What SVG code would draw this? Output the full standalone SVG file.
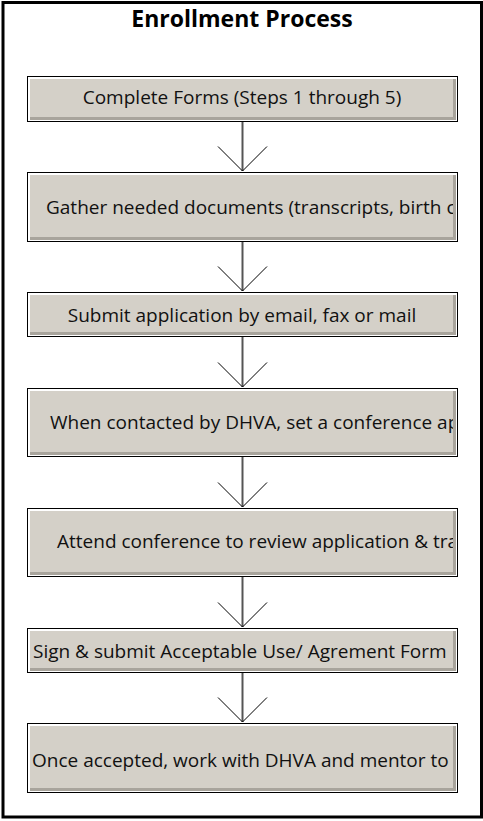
<svg xmlns="http://www.w3.org/2000/svg" width="483" height="821" viewBox="0 0 483 821">
  <style>
    .frame { fill: #fff; stroke: #000; stroke-width: 3; }
    .title { font-family: "Open Sans", "DejaVu Sans", sans-serif; font-weight: bold; font-size: 23px; fill: #000; text-anchor: middle; }
    .bx { fill: #fff; stroke: #000; stroke-width: 1; }
    .sh { fill: #a8a49c; }
    .face { fill: #d4d0c8; }
    .lbl { font-family: "Open Sans", "DejaVu Sans", sans-serif; font-size: 19px; fill: #111; }
    .mid { text-anchor: middle; }
    .line { stroke: #555; stroke-width: 2; fill: none; }
    .head { stroke: #000; stroke-width: 1; fill: none; }
  </style>
  <defs>
    <clipPath id="clip" clipPathUnits="userSpaceOnUse">
      <rect x="30" y="0" width="423" height="821"/>
    </clipPath>
  </defs>
  <rect class="frame" x="3" y="2.5" width="478.5" height="814.5"/>
  <text class="title" x="242" y="27">Enrollment Process</text>

  <g id="connectors">
    <line class="line" x1="242.5" y1="122" x2="242.5" y2="171"/>
    <polyline class="head" points="218,146.5 242.5,171 267,146.5"/>
    <line class="line" x1="242.5" y1="242" x2="242.5" y2="291"/>
    <polyline class="head" points="218,266.5 242.5,291 267,266.5"/>
    <line class="line" x1="242.5" y1="337" x2="242.5" y2="387"/>
    <polyline class="head" points="218,362.5 242.5,387 267,362.5"/>
    <line class="line" x1="242.5" y1="457" x2="242.5" y2="507"/>
    <polyline class="head" points="218,482.5 242.5,507 267,482.5"/>
    <line class="line" x1="242.5" y1="577" x2="242.5" y2="627"/>
    <polyline class="head" points="218,602.5 242.5,627 267,602.5"/>
    <line class="line" x1="242.5" y1="673" x2="242.5" y2="722"/>
    <polyline class="head" points="218,697.5 242.5,722 267,697.5"/>
  </g>

  <g id="node1">
    <rect class="bx" x="27.5" y="76.5" width="430" height="45"/>
    <rect class="sh" x="30" y="79" width="426" height="41"/>
    <rect class="face" x="30" y="79" width="423" height="38"/>
    <text class="lbl mid" x="242" y="104" clip-path="url(#clip)">Complete Forms (Steps 1 through 5)</text>
  </g>
  <g id="node2">
    <rect class="bx" x="27.5" y="172.5" width="430" height="69"/>
    <rect class="sh" x="30" y="175" width="426" height="65"/>
    <rect class="face" x="30" y="175" width="423" height="62"/>
    <text class="lbl" x="46" y="214" clip-path="url(#clip)">Gather needed documents (transcripts, birth c</text>
  </g>
  <g id="node3">
    <rect class="bx" x="27.5" y="292.5" width="430" height="44"/>
    <rect class="sh" x="30" y="295" width="426" height="40"/>
    <rect class="face" x="30" y="295" width="423" height="37"/>
    <text class="lbl mid" x="242" y="322" clip-path="url(#clip)">Submit application by email, fax or mail</text>
  </g>
  <g id="node4">
    <rect class="bx" x="27.5" y="388.5" width="430" height="68"/>
    <rect class="sh" x="30" y="391" width="426" height="64"/>
    <rect class="face" x="30" y="391" width="423" height="61"/>
    <text class="lbl" x="50" y="429" clip-path="url(#clip)">When contacted by DHVA, set a conference ap</text>
  </g>
  <g id="node5">
    <rect class="bx" x="27.5" y="508.5" width="430" height="68"/>
    <rect class="sh" x="30" y="511" width="426" height="64"/>
    <rect class="face" x="30" y="511" width="423" height="61"/>
    <text class="lbl" x="57" y="548" clip-path="url(#clip)">Attend conference to review application &amp; tra</text>
  </g>
  <g id="node6">
    <rect class="bx" x="27.5" y="628.5" width="430" height="44"/>
    <rect class="sh" x="30" y="631" width="426" height="40"/>
    <rect class="face" x="30" y="631" width="423" height="37"/>
    <text class="lbl" x="33" y="658" clip-path="url(#clip)">Sign &amp; submit Acceptable Use/ Agrement Form</text>
  </g>
  <g id="node7">
    <rect class="bx" x="27.5" y="723.5" width="430" height="69"/>
    <rect class="sh" x="30" y="726" width="426" height="65"/>
    <rect class="face" x="30" y="726" width="423" height="62"/>
    <text class="lbl" x="32" y="767" clip-path="url(#clip)">Once accepted, work with DHVA and mentor to</text>
  </g>
</svg>
